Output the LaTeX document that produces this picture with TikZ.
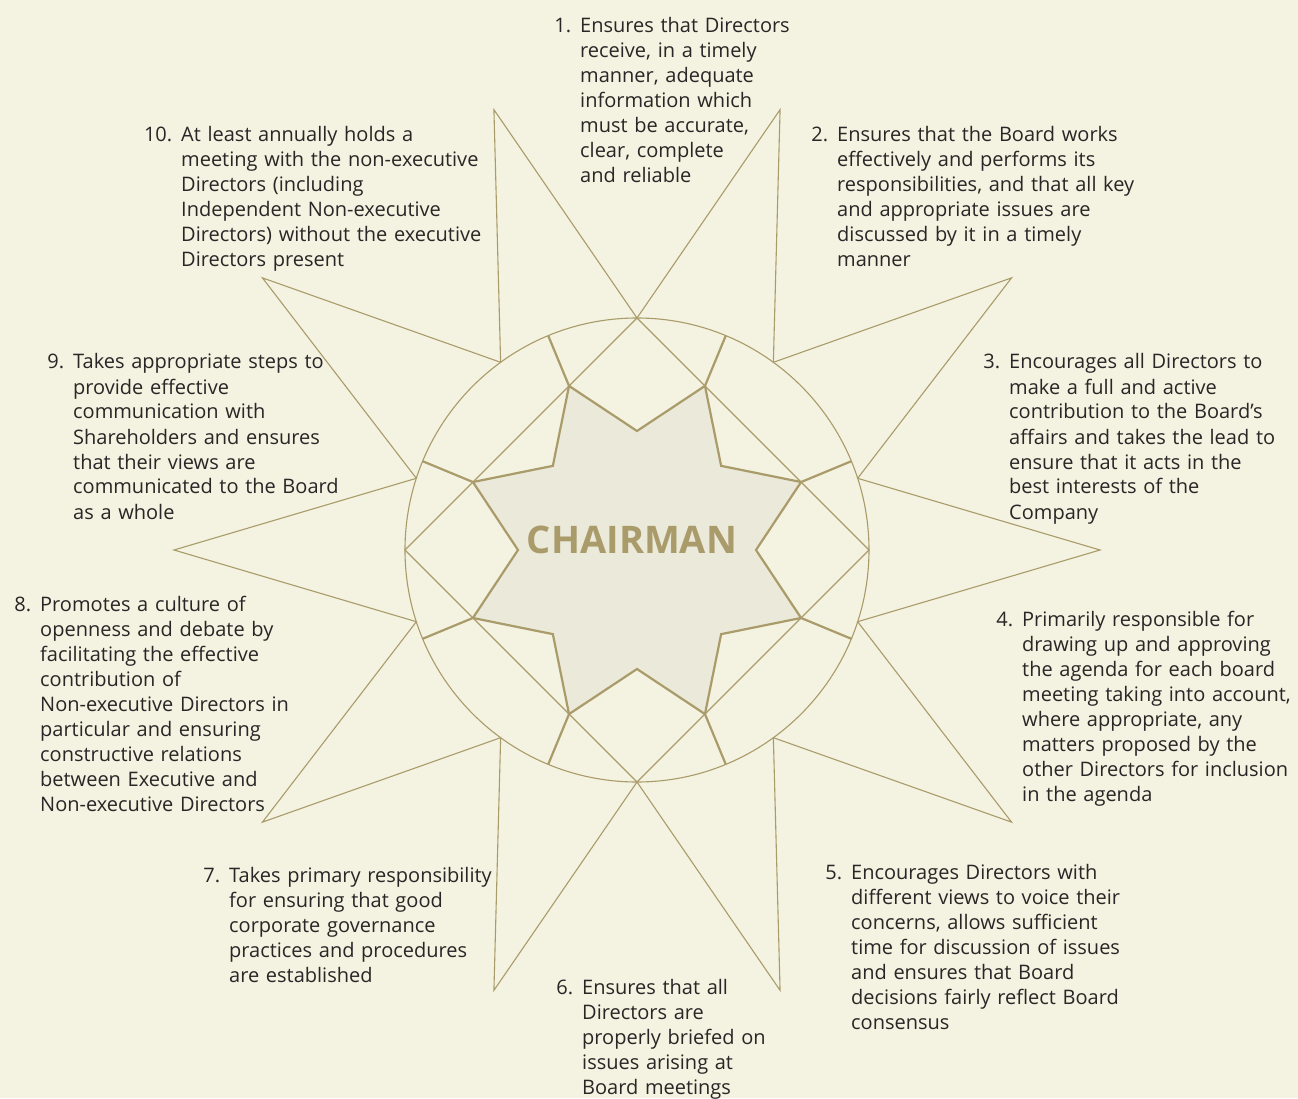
\documentclass[tikz,border=0pt]{standalone}
\usepackage{fontspec}
\setmainfont{Open Sans}
\usepackage{tikz}
\usetikzlibrary{positioning}
\definecolor{bgcream}{RGB}{244,242,224}
\definecolor{starfill}{RGB}{235,233,217}
\definecolor{goldline}{RGB}{170,155,107}
\definecolor{textdark}{RGB}{40,38,38}

\newcommand{\itemnum}[1]{\leavevmode\llap{#1\hspace{9pt}}}

\begin{document}
\begin{tikzpicture}[x=1pt,y=1pt]

    \tikzset{
    % line styles for the rosette
    thinline/.style={draw=goldline, line width=1.1pt, line join=miter},
    thickline/.style={draw=goldline, line width=2.2pt, line join=miter},
    % text blocks round the rosette
    duty/.style={anchor=base west, inner sep=0, text width=330pt, align=left,
        text=textdark, font=\fontsize{20}{25}\selectfont},
    title/.style={text=goldline, font=\fontsize{38}{40}\selectfont\bfseries}
    }

    % background, fixes the size of the page
    \useasboundingbox (-637,-548) rectangle (661,550);
    \fill[bgcream] (-637,-548) rectangle (661,550);

    % outer ten pointed star
    \draw[thinline] (0:463) \foreach \a in {0,36,...,324} {-- (\a+18:232) -- (\a+36:463)} -- cycle;

    % circle and square inside it
    \draw[thinline] (0,0) circle (232);
    \draw[thinline] (0:232) -- (90:232) -- (180:232) -- (270:232) -- cycle;

    % spokes from the inner star to the circle
    \foreach \a in {22.5,67.5,...,337.5}
        \draw[thickline] (\a:177.6) -- (\a:232);

    % inner eight pointed star
    \filldraw[thickline, fill=starfill] (22.5:177.6)
        \foreach \a in {22.5,67.5,...,337.5} {-- (\a+22.5:119) -- (\a+45:177.6)} -- cycle;

    \node[title] (chair) at (-5,10) {CHAIRMAN};

    \node[duty] (d1) at (-57,517) {\itemnum{1.}Ensures that Directors\\ receive, in a timely\\ manner, adequate\\ information which\\ must be accurate,\\ clear, complete\\ and reliable};

    \node[duty] (d2) at (200,408) {\itemnum{2.}Ensures that the Board works\\ effectively and performs its\\ responsibilities, and that all key\\ and appropriate issues are\\ discussed by it in a timely\\ manner};

    \node[duty] (d3) at (372,181) {\itemnum{3.}Encourages all Directors to\\ make a full and active\\ contribution to the Board’s\\ affairs and takes the lead to\\ ensure that it acts in the\\ best interests of the\\ Company};

    \node[duty] (d4) at (385,-76) {\itemnum{4.}Primarily responsible for\\ drawing up and approving\\ the agenda for each board\\ meeting taking into account,\\ where appropriate, any\\ matters proposed by the\\ other Directors for inclusion\\ in the agenda};

    \node[duty] (d5) at (214,-329) {\itemnum{5.}Encourages Directors with\\ different views to voice their\\ concerns, allows sufficient\\ time for discussion of issues\\ and ensures that Board\\ decisions fairly reflect Board\\ consensus};

    \node[duty] (d6) at (-55,-444) {\itemnum{6.}Ensures that all\\ Directors are\\ properly briefed on\\ issues arising at\\ Board meetings};

    \node[duty] (d7) at (-408,-332) {\itemnum{7.}Takes primary responsibility\\ for ensuring that good\\ corporate governance\\ practices and procedures\\ are established};

    \node[duty] (d8) at (-597,-61) {\itemnum{8.}Promotes a culture of\\ openness and debate by\\ facilitating the effective\\ contribution of\\ Non-executive Directors in\\ particular and ensuring\\ constructive relations\\ between Executive and\\ Non-executive Directors};

    \node[duty] (d9) at (-564,181) {\itemnum{9.}Takes appropriate steps to\\ provide effective\\ communication with\\ Shareholders and ensures\\ that their views are\\ communicated to the Board\\ as a whole};

    \node[duty] (d10) at (-456,408) {\itemnum{10.}At least annually holds a\\ meeting with the non-executive\\ Directors (including\\ Independent Non-executive\\ Directors) without the executive\\ Directors present};

\end{tikzpicture}
\end{document}
